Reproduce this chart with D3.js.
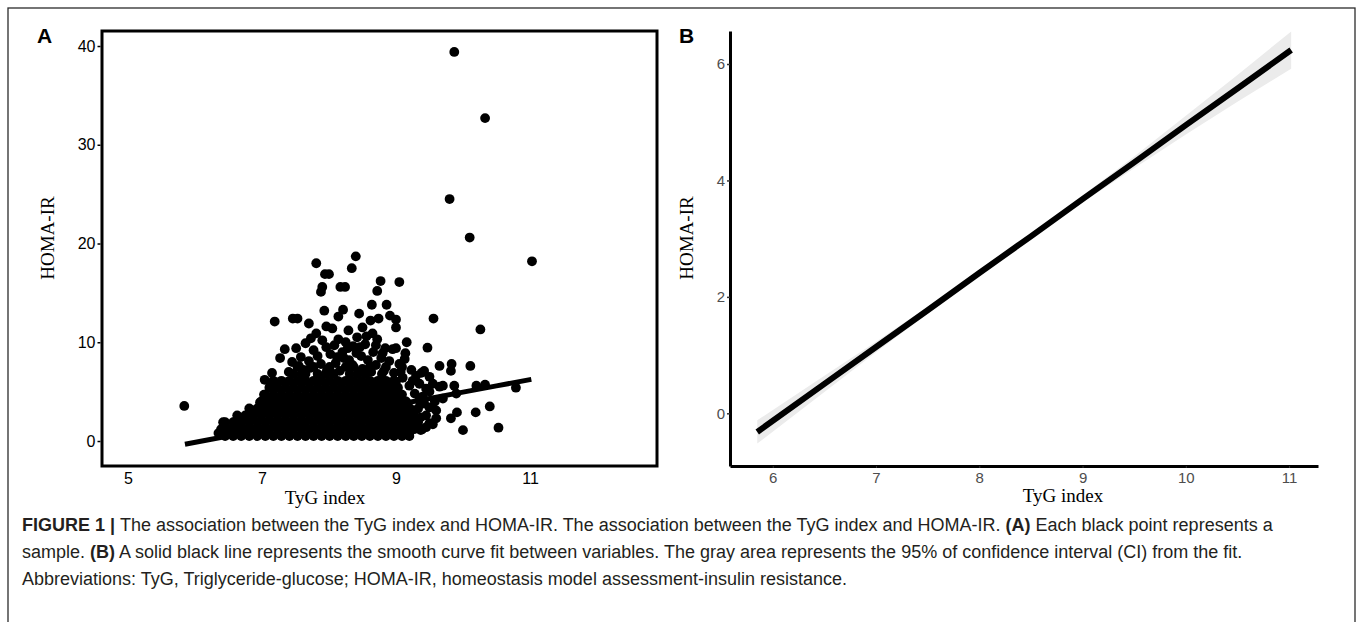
<!DOCTYPE html>
<html>
<head>
<meta charset="utf-8">
<script src="https://cdn.jsdelivr.net/npm/d3@7"></script>
<style>
  body { margin: 0; background: #fff; }
  .tick text { font-family: "Liberation Sans", Arial, sans-serif; }
  .axis-title { font-family: "Liberation Serif", "Times New Roman", serif; font-size: 19px; fill: #000; }
  .caption { font-family: "Liberation Sans", Arial, sans-serif; font-size: 18px; fill: #231f20; }
</style>
</head>
<body>
<svg id="fig" width="1357" height="622"></svg>
<script>
// ---- data ----
// dense part of the scatter, one row per HOMA-IR level: [homa, [tyg values]]
const coreRows = [
  [0.5, [6.45,6.57,6.69,6.81,6.93,7.05,7.17,7.29,7.41,7.53,7.65,7.77,7.89,8.01,8.13,8.25,8.37,8.49,8.61,8.73,8.85,8.97,9.09,9.2]],
  [1.2, [6.39,6.51,6.63,6.75,6.87,6.99,7.11,7.23,7.35,7.47,7.59,7.71,7.83,7.95,8.07,8.19,8.31,8.43,8.55,8.67,8.79,8.91,9.03,9.15,9.27,9.39]],
  [1.9, [6.45,6.57,6.69,6.81,6.93,7.05,7.17,7.29,7.41,7.53,7.65,7.77,7.89,8.01,8.13,8.25,8.37,8.49,8.61,8.73,8.85,8.97,9.09,9.21,9.33]],
  [2.6, [6.63,6.75,6.87,6.99,7.11,7.23,7.35,7.47,7.59,7.71,7.83,7.95,8.07,8.19,8.31,8.43,8.55,8.67,8.79,8.91,9.03,9.15,9.27]],
  [3.3, [6.81,6.93,7.05,7.17,7.29,7.41,7.53,7.65,7.77,7.89,8.01,8.13,8.25,8.37,8.49,8.61,8.73,8.85,8.97,9.09,9.21]],
  [4.0, [6.99,7.11,7.23,7.35,7.47,7.59,7.71,7.83,7.95,8.07,8.19,8.31,8.43,8.55,8.67,8.79,8.91,9.03,9.15]],
  [4.7, [7.05,7.17,7.29,7.41,7.53,7.65,7.77,7.89,8.01,8.13,8.25,8.37,8.49,8.61,8.73,8.85,8.97,9.09]],
  [5.4, [7.11,7.23,7.35,7.47,7.59,7.71,7.83,7.95,8.07,8.19,8.31,8.43,8.55,8.67,8.79,8.91,9.03]],
  [6.1, [7.17,7.29,7.41,7.53,7.65,7.77,7.89,8.01,8.13,8.25,8.37,8.49,8.61,8.73,8.85,8.97]],
  [6.8, [7.47,7.59,7.83,7.95,8.07,8.31,8.43,8.55,8.79]],
  [7.5, [7.53,7.77,8.01,8.25,8.37,8.61,8.85,9.09]]
];

// sparser points around and above the dense part: [tyg, homa]
const outerPoints = [
  [5.84,3.55],[6.35,0.8],[6.42,1.9],[6.6,1.95],[6.72,2.2],[6.85,3.1],[6.97,3.9],[7.03,4.7],[7.12,5.5],
  [7.04,6.2],[7.15,6.9],[7.27,8.4],[7.34,9.3],[7.51,9.4],[7.45,8.0],[7.62,7.2],[7.7,8.1],[7.77,9.2],
  [7.83,8.6],[7.9,10.2],[7.96,9.5],[8.02,8.8],[8.14,10.3],[8.2,9.0],[8.25,10.0],[8.3,8.2],[8.36,9.6],
  [8.42,10.5],[8.48,8.6],[8.54,9.8],[8.66,9.0],[8.72,10.3],[8.78,8.4],[8.84,9.4],[8.95,9.3],[9.05,7.8],
  [9.14,8.9],[9.13,8.3],[9.23,7.2],[9.3,6.6],[9.42,7.1],[9.5,6.5],[9.35,5.8],[9.45,5.3],[9.55,5.8],
  [9.65,5.5],[9.2,5.6],[7.81,10.9],[8.05,11.4],[8.29,11.2],[8.5,11.5],[8.65,10.9],[7.96,11.6],
  [9.0,9.4],[9.16,10.0],[9.47,9.45],[7.19,12.1],[7.46,12.4],[7.53,12.4],[7.7,11.9],[8.14,12.6],
  [8.45,12.9],[8.62,12.2],[8.74,12.4],[8.91,12.7],[9.0,12.3],[9.0,11.5],[9.56,12.4],[10.26,11.3],
  [7.93,13.2],[8.21,13.3],[8.64,13.8],[8.86,13.8],[7.88,15.1],[7.9,15.6],[8.17,15.6],[8.24,15.6],
  [8.72,15.2],[8.77,16.2],[9.05,16.1],[7.94,16.9],[8.0,16.9],[8.34,17.5],[7.81,18.0],[8.4,18.7],
  [9.65,7.6],[9.83,7.8],[10.11,7.6],[9.82,7.1],[9.7,5.6],[9.87,5.6],[10.2,5.6],[10.33,5.7],[10.79,5.4],
  [10.4,3.5],[10.19,2.9],[9.91,2.9],[9.82,2.3],[10.0,1.1],[10.53,1.35],[9.5,1.8],[9.6,2.3],[9.5,3.4],
  [9.35,4.1],[9.2,0.8],[9.37,1.1],[9.55,1.7],[9.45,2.6],[9.7,4.3],[9.9,4.8],
  [7.4,7.0],[7.55,7.6],[7.65,6.8],[7.72,7.4],[7.88,7.8],[7.97,7.2],[8.1,7.9],[8.16,7.1],[8.22,8.4],
  [8.35,7.7],[8.41,8.9],[8.5,7.3],[8.58,8.2],[8.63,7.0],[8.7,7.7],[8.82,7.1],[8.9,8.1],[8.97,6.9],
  [9.07,7.0],[7.58,8.5],[7.65,9.9],[7.73,10.4],[8.08,9.7],[8.12,8.5],[8.28,9.4],[8.46,9.5],[8.56,10.6],
  [8.7,9.7],[8.8,8.9],[7.6,6.4],[9.0,6.0],[9.1,6.4],[9.25,6.1],[9.38,6.9],[9.28,4.8],[9.4,4.5],
  [9.5,5.0],[9.33,3.3],[9.42,3.8],[9.58,4.0],[9.6,3.1],[9.37,2.4],[9.3,1.6],[9.45,1.4],
  [9.8,24.5],[10.1,20.6],[11.03,18.2],[10.33,32.7],[9.87,39.4]
];

// linear fit and its 95% CI
const fitX = [5.85, 6.5, 7, 7.5, 8, 8.5, 9, 9.5, 10, 10.5, 11.02];
const fitY = [-0.32, 0.505, 1.14, 1.77, 2.41, 3.04, 3.68, 4.31, 4.95, 5.58, 6.24];
const ciLow = [-0.52, 0.365, 1.05, 1.71, 2.37, 3.00, 3.62, 4.21, 4.79, 5.35, 5.92];
const ciHigh = [-0.12, 0.645, 1.23, 1.83, 2.45, 3.08, 3.74, 4.41, 5.11, 5.81, 6.56];

const ticksAx = [5, 7, 9, 11];
const ticksAy = [0, 10, 20, 30, 40];
const ticksBx = [6, 7, 8, 9, 10, 11];
const ticksBy = [0, 2, 4, 6];

const captionLines = [
  [["FIGURE 1 | ", true], ["The association between the TyG index and HOMA-IR. The association between the TyG index and HOMA-IR. ", false], ["(A)", true], [" Each black point represents a", false]],
  [["sample. ", false], ["(B)", true], [" A solid black line represents the smooth curve fit between variables. The gray area represents the 95% of confidence interval (CI) from the fit.", false]],
  [["Abbreviations: TyG, Triglyceride-glucose; HOMA-IR, homeostasis model assessment-insulin resistance.", false]]
];

// ---- drawing ----
const svg = d3.select("#fig");

// outer border of the figure box
svg.append("rect")
  .attr("x", 8).attr("y", 8)
  .attr("width", 1347).attr("height", 640)
  .attr("fill", "none").attr("stroke", "#2b2b2b").attr("stroke-width", 1.3);

const fitRows = fitX.map((x, i) => ({x: x, y: fitY[i], lo: ciLow[i], hi: ciHigh[i]}));

/* ---------- panel A ---------- */
const xA = d3.scaleLinear().domain([4.612, 12.896]).range([102, 657]);
const yA = d3.scaleLinear().domain([-2.53, 41.52]).range([466, 31]);

let pts = [];
coreRows.forEach(r => r[1].forEach(x => pts.push([x, r[0]])));
pts = pts.concat(outerPoints);

const gA = svg.append("g");
gA.selectAll("circle.pt")
  .data(pts)
  .join("circle")
  .attr("class", "pt")
  .attr("cx", d => xA(d[0]))
  .attr("cy", d => yA(d[1]))
  .attr("r", 4.9)
  .attr("fill", "#000");

gA.append("path")
  .datum(fitRows)
  .attr("fill", "none")
  .attr("stroke", "#000")
  .attr("stroke-width", 5)
  .attr("d", d3.line().x(d => xA(d.x)).y(d => yA(d.y)));

gA.append("rect")
  .attr("x", 102).attr("y", 31)
  .attr("width", 555).attr("height", 435)
  .attr("fill", "none").attr("stroke", "#000").attr("stroke-width", 3);

const axAy = gA.append("g")
  .attr("transform", "translate(100.5,0)")
  .call(d3.axisLeft(yA).tickValues(ticksAy).tickSize(3).tickPadding(2));
axAy.select(".domain").remove();
axAy.selectAll(".tick text").attr("font-size", 16).attr("fill", "#000");
axAy.selectAll(".tick line").attr("stroke", "#000").attr("stroke-width", 1.5);

const axAx = gA.append("g")
  .attr("transform", "translate(0,467)")
  .call(d3.axisBottom(xA).tickValues(ticksAx).tickSize(0).tickPadding(6));
axAx.select(".domain").remove();
axAx.selectAll(".tick text").attr("font-size", 16).attr("fill", "#000");

gA.append("text").attr("class", "axis-title")
  .attr("x", 325).attr("y", 504)
  .attr("text-anchor", "middle").text("TyG index");
gA.append("text").attr("class", "axis-title")
  .attr("transform", "translate(54,238) rotate(-90)")
  .attr("text-anchor", "middle").text("HOMA-IR");

svg.append("text")
  .attr("x", 37).attr("y", 43)
  .attr("font-family", "Liberation Sans, Arial, sans-serif")
  .attr("font-weight", "bold").attr("font-size", 21)
  .text("A");

/* ---------- panel B ---------- */
const xB = d3.scaleLinear().domain([5.586, 11.28]).range([730, 1318]);
const yB = d3.scaleLinear().domain([-0.905, 6.567]).range([466, 31]);

const gB = svg.append("g");
gB.append("path")
  .datum(fitRows)
  .attr("fill", "#ebebeb")
  .attr("d", d3.area().x(d => xB(d.x)).y0(d => yB(d.lo)).y1(d => yB(d.hi)));
gB.append("path")
  .datum(fitRows)
  .attr("fill", "none")
  .attr("stroke", "#000")
  .attr("stroke-width", 6)
  .attr("d", d3.line().x(d => xB(d.x)).y(d => yB(d.y)));

const axBy = gB.append("g")
  .attr("transform", "translate(730,0)")
  .call(d3.axisLeft(yB).tickValues(ticksBy).tickFormat(d3.format("d"))
    .tickSize(3).tickPadding(2).tickSizeOuter(0));
axBy.select(".domain").attr("stroke", "#000").attr("stroke-width", 3);
axBy.selectAll(".tick text").attr("font-size", 15).attr("fill", "#4d4d4d");
axBy.selectAll(".tick line").attr("stroke", "#333").attr("stroke-width", 1.5);

const axBx = gB.append("g")
  .attr("transform", "translate(0,466)")
  .call(d3.axisBottom(xB).tickValues(ticksBx).tickFormat(d3.format("d"))
    .tickSize(2).tickPadding(4).tickSizeOuter(0));
axBx.select(".domain").attr("stroke", "#000").attr("stroke-width", 3);
axBx.selectAll(".tick text").attr("font-size", 15).attr("fill", "#4d4d4d");
axBx.selectAll(".tick line").attr("stroke", "#333");

gB.append("text").attr("class", "axis-title")
  .attr("x", 1063).attr("y", 502)
  .attr("text-anchor", "middle").text("TyG index");
gB.append("text").attr("class", "axis-title")
  .attr("transform", "translate(693,238) rotate(-90)")
  .attr("text-anchor", "middle").text("HOMA-IR");

svg.append("text")
  .attr("x", 679).attr("y", 43)
  .attr("font-family", "Liberation Sans, Arial, sans-serif")
  .attr("font-weight", "bold").attr("font-size", 21)
  .text("B");

/* ---------- caption ---------- */
const cap = svg.append("g");
captionLines.forEach((line, i) => {
  const t = cap.append("text").attr("class", "caption")
    .attr("x", 22).attr("y", 531 + i * 27);
  line.forEach(seg => {
    t.append("tspan")
      .attr("font-weight", seg[1] ? "bold" : "normal")
      .text(seg[0]);
  });
});
</script>
</body>
</html>
